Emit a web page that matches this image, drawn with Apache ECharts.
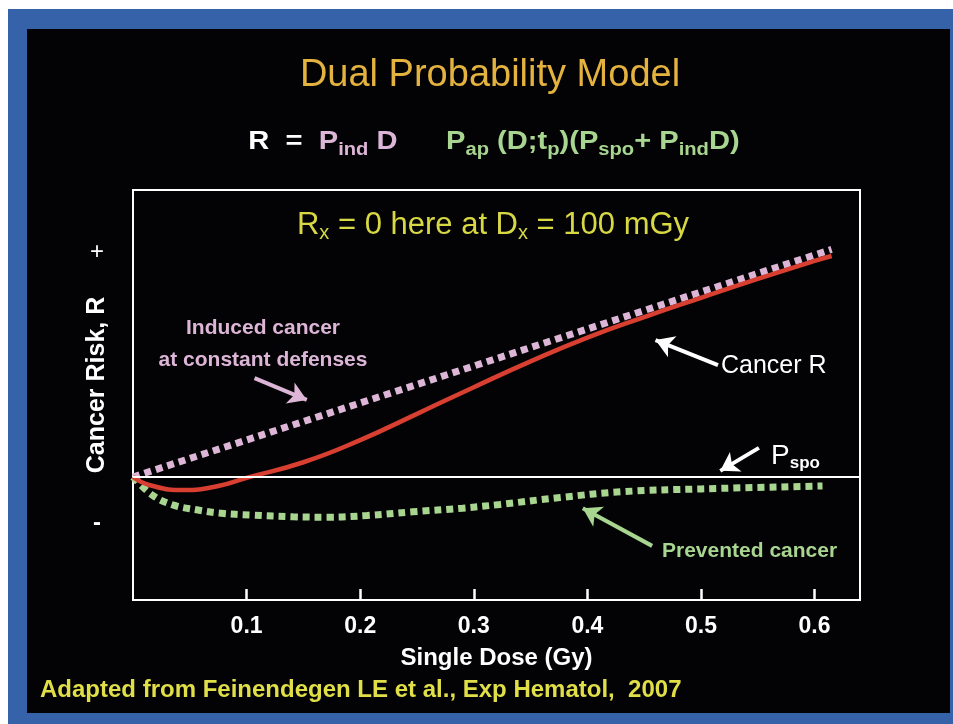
<!DOCTYPE html>
<html><head><meta charset="utf-8">
<script src="https://cdn.jsdelivr.net/npm/echarts@6/dist/echarts.min.js"></script>
<style>
html,body{margin:0;padding:0;background:#fff;width:953px;height:724px;overflow:hidden}
#frame{position:absolute;left:8px;top:9px;width:945px;height:715px;background:#3662aa}
#panel{position:absolute;left:27px;top:29px;width:923px;height:684px;background:#030305}
#chart{position:absolute;left:0;top:0;width:953px;height:724px}
</style></head><body>
<div id="frame"></div><div id="panel"></div><div id="chart"></div>
<script>
// Data (dose in Gy, risk in relative units, 0 = P_spo baseline)
const doseTicks = [0.1, 0.2, 0.3, 0.4, 0.5, 0.6];
const inducedDose = [0, 0.615];
const inducedRisk = [0, 0.555];
const cancerDose = [0, 0.015, 0.045, 0.075, 0.1, 0.15, 0.2, 0.25, 0.3, 0.35, 0.4, 0.45, 0.5, 0.55, 0.6, 0.615];
const cancerRisk = [0, -0.02, -0.032, -0.022, -0.002, 0.036, 0.09, 0.154, 0.219, 0.282, 0.34, 0.39, 0.437, 0.483, 0.527, 0.539];
const preventedDose = [0, 0.017, 0.035, 0.056, 0.076, 0.105, 0.141, 0.171, 0.206, 0.246, 0.29, 0.323, 0.376, 0.43, 0.5, 0.607];
const preventedRisk = [0, -0.044, -0.068, -0.080, -0.088, -0.093, -0.097, -0.098, -0.094, -0.085, -0.076, -0.067, -0.050, -0.036, -0.029, -0.022];
// annotation arrows: [fromDose, fromRisk, toDose, toRisk]
const arrowCancer = [0.515, 0.273, 0.460, 0.334];
const arrowSpo = [0.551, 0.071, 0.517, 0.015];
const arrowInduced = [0.107, 0.241, 0.153, 0.188];
const arrowPrevented = [0.457, -0.168, 0.396, -0.076];

const zip = (a, b) => a.map((v, i) => [v, b[i]]);
const FONT = "'Liberation Sans', Arial, sans-serif";
const PINK = '#dcb5d7', GREEN = '#a8d690', RED = '#d83f31', TITLE = '#e4b23e', YEL = '#d7d844', FOOT = '#e0df47';

function arrow(a, color) {
  return [{ coord: [a[0], a[1]], lineStyle: { color: color, width: 4, type: 'solid' }, itemStyle: { color: color } },
          { coord: [a[2], a[3]] }];
}

const chart = echarts.init(document.getElementById('chart'), null, { renderer: 'canvas' });
chart.setOption({
  animation: false,
  backgroundColor: 'transparent',
  grid: { left: 133, top: 190, right: 93, bottom: 124, show: true, borderColor: '#ffffff', borderWidth: 2, backgroundColor: 'transparent' },
  xAxis: {
    type: 'value', min: 0, max: 0.64, interval: 0.1, position: 'bottom',
    name: 'Single Dose (Gy)', nameLocation: 'middle', nameGap: 46,
    nameTextStyle: { color: '#fff', fontSize: 24, fontWeight: 'bold', fontFamily: FONT },
    axisLine: { show: true, onZero: false, lineStyle: { color: '#fff', width: 2 } },
    axisTick: { show: true, inside: true, length: 11, lineStyle: { color: '#ffffff', width: 2.5 } },
    axisLabel: { color: '#fff', fontSize: 23, fontWeight: 'bold', fontFamily: FONT, margin: 15,
      showMinLabel: false, showMaxLabel: false,
      formatter: v => { const t = doseTicks.find(d => Math.abs(d - v) < 1e-6); return t !== undefined ? t.toFixed(1) : ''; } },
    splitLine: { show: false }, z: 10
  },
  yAxis: {
    type: 'value', min: -0.3, max: 0.7,
    axisLine: { show: false }, axisTick: { show: false }, axisLabel: { show: false }, splitLine: { show: false }
  },
  series: [
    {
      name: 'Induced cancer', type: 'line', data: zip(inducedDose, inducedRisk), symbol: 'none',
      lineStyle: { color: PINK, width: 7, type: [7, 5], cap: 'butt' }, z: 3,
      markLine: { silent: true, symbol: 'none', label: { show: false },
        lineStyle: { color: '#fff', width: 2, type: 'solid' }, data: [{ yAxis: 0 }] }
    },
    {
      name: 'Prevented cancer', type: 'line', data: zip(preventedDose, preventedRisk), symbol: 'none', smooth: 0.4,
      lineStyle: { color: GREEN, width: 7, type: [7, 5], cap: 'butt' }, z: 3
    },
    {
      name: 'Cancer R', type: 'line', data: zip(cancerDose, cancerRisk), symbol: 'none', smooth: 0.5,
      lineStyle: { color: RED, width: 4.5 }, z: 4,
      markLine: { silent: true, symbol: ['none', 'arrow'], symbolSize: [17, 18], label: { show: false },
        data: [arrow(arrowCancer, '#fff'), arrow(arrowSpo, '#fff'), arrow(arrowInduced, PINK), arrow(arrowPrevented, GREEN)] }
    }
  ],
  graphic: [
    { type: 'text', x: 490, y: 76, style: { text: 'Dual Probability Model', align: 'center', verticalAlign: 'middle', fill: TITLE, font: `38px ${FONT}` } },
    { type: 'text', x: 494, y: 142, scaleX: 1.12, style: {
        text: '{w|R  =  }{pk|P}{pks|ind}{pk| D}{g|      P}{gs|ap}{g| (D;t}{gs|p}{g|)(P}{gs|spo}{g|+ P}{gs|ind}{g|D)}',
        align: 'center', verticalAlign: 'middle',
        rich: {
          w: { fill: '#fff', fontSize: 26, fontWeight: 'bold', fontFamily: FONT, lineHeight: 34 },
          pk: { fill: PINK, fontSize: 26, fontWeight: 'bold', fontFamily: FONT, lineHeight: 34 },
          g: { fill: GREEN, fontSize: 26, fontWeight: 'bold', fontFamily: FONT, lineHeight: 34 },
          pks: { fill: PINK, fontSize: 18, fontWeight: 'bold', fontFamily: FONT, lineHeight: 17, verticalAlign: 'bottom' },
          gs: { fill: GREEN, fontSize: 18, fontWeight: 'bold', fontFamily: FONT, lineHeight: 17, verticalAlign: 'bottom' }
        } } },
    { type: 'text', x: 493, y: 225, style: {
        text: '{m|R}{s|x}{m| = 0 here at D}{s|x}{m| = 100 mGy}', align: 'center', verticalAlign: 'middle',
        rich: {
          m: { fill: YEL, fontSize: 31, fontFamily: FONT, lineHeight: 36 },
          s: { fill: YEL, fontSize: 20, fontFamily: FONT, lineHeight: 19, verticalAlign: 'bottom' }
        } } },
    { type: 'text', x: 263, y: 344, style: { text: 'Induced cancer\nat constant defenses', align: 'center', verticalAlign: 'middle',
        fill: PINK, font: `bold 21px ${FONT}`, lineHeight: 32 } },
    { type: 'text', x: 721, y: 366, style: { text: 'Cancer R', align: 'left', verticalAlign: 'middle', fill: '#fff', font: `25px ${FONT}` } },
    { type: 'text', x: 771, y: 456, style: { text: '{p|P}{s|spo}', align: 'left', verticalAlign: 'middle',
        rich: { p: { fill: '#fff', fontSize: 28, fontFamily: FONT, lineHeight: 32 },
                s: { fill: '#fff', fontSize: 17, fontWeight: 'bold', fontFamily: FONT, lineHeight: 16, verticalAlign: 'bottom' } } } },
    { type: 'text', x: 662, y: 551, style: { text: 'Prevented cancer', align: 'left', verticalAlign: 'middle', fill: GREEN, font: `bold 21px ${FONT}` } },
    { type: 'text', x: 97, y: 252, style: { text: '+', align: 'center', verticalAlign: 'middle', fill: '#fff', font: `24px ${FONT}` } },
    { type: 'text', x: 97, y: 523, style: { text: '-', align: 'center', verticalAlign: 'middle', fill: '#fff', font: `bold 24px ${FONT}` } },
    { type: 'text', x: 97, y: 385, rotation: Math.PI / 2, style: { text: 'Cancer Risk, R', align: 'center', verticalAlign: 'middle', fill: '#fff', font: `bold 25px ${FONT}` } },
    { type: 'text', x: 40, y: 690, style: { text: 'Adapted from Feinendegen LE et al., Exp Hematol,  2007', align: 'left', verticalAlign: 'middle', fill: FOOT, font: `bold 24px ${FONT}` } }
  ]
});
</script>
</body></html>
